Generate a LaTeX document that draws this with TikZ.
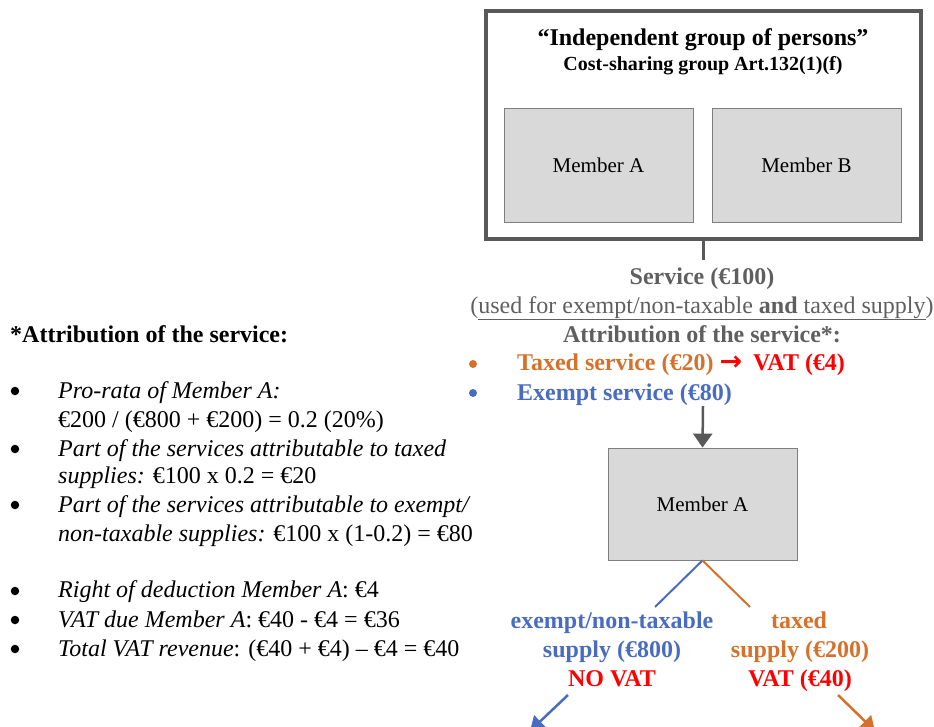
\documentclass[tikz,border=0pt]{standalone}
\usepackage{fontspec}
\setmainfont{Liberation Serif}
\newfontfamily\symfont{DejaVu Sans}
\usetikzlibrary{arrows.meta,calc}

\definecolor{framegray}{HTML}{595959}
\definecolor{boxfill}{HTML}{D9D9D9}
\definecolor{boxline}{HTML}{7F7F7F}
\definecolor{txtgray}{HTML}{5F5F5F}
\definecolor{taxorange}{HTML}{D5712A}
\definecolor{exblue}{HTML}{4A6CC0}
\definecolor{vatred}{HTML}{FF0000}

\tikzset{
  member/.style={draw=boxline, fill=boxfill, line width=0.8pt,
    minimum width=189pt, minimum height=114pt, inner sep=0pt,
    font=\fontsize{21}{24}\selectfont},
  txt/.style={anchor=base, inner sep=0pt, font=\fontsize{24}{28}\selectfont},
  boldtxt/.style={txt, font=\bfseries\fontsize{24}{28}\selectfont},
  lefttxt/.style={anchor=base west, inner sep=0pt, font=\fontsize{24}{28}\selectfont},
  dot/.style={circle, inner sep=0pt, minimum size=#1},
  flowline/.style={draw=framegray, line width=2.5pt},
  flowarrow/.style={flowline, -{Triangle[width=19pt,length=14pt]}},
  branch/.style={line width=2pt},
  brancharrow/.style={line width=2.5pt, -{Triangle[width=17pt,length=14pt]}},
}

\begin{document}
\begin{tikzpicture}[x=1pt,y=-1pt]
\useasboundingbox (0,0) rectangle (934,726);
\clip (0,0) rectangle (934,726);

% group frame with its two members
\node[draw=framegray, line width=3.5pt, minimum width=435pt, minimum height=228pt,
      inner sep=0pt] (group) at (703.5,125) {};
\node[boldtxt] (title) at (703,45) {“Independent group of persons”};
\node[txt, font=\bfseries\fontsize{20}{24}\selectfont] (subtitle) at (703,70)
  {Cost-sharing group Art.132(1)(f)};
\node[member] (memA) at (598.5,165) {Member A};
\node[member] (memB) at (806.5,165) {Member B};

% the shared service and its attribution
\node[boldtxt, text=txtgray] (service) at (702,284) {Service (€100)};
\node[txt, text=txtgray] (usage) at (702,313)
  {(\underline{used for exempt/non-taxable \textbf{and} taxed supply})};
\node[boldtxt, text=txtgray] (attrib) at (702,342) {Attribution of the service*:};
\node[dot=8pt, fill=taxorange] (dotA) at (473,364) {};
\node[lefttxt, font=\bfseries\fontsize{24}{28}\selectfont] (taxed) at (517,370)
  {\textcolor{taxorange}{Taxed service (€20)}\hspace{6pt}\textcolor{vatred}{{\symfont\bfseries\fontsize{27}{28}\selectfont →}\hspace{11pt}VAT (€4)}};
\node[dot=8pt, fill=exblue] (dotB) at (473,393) {};
\node[lefttxt, font=\bfseries\fontsize{24}{28}\selectfont, text=exblue] (exempt) at (517,400)
  {Exempt service (€80)};

\draw[flowline, shorten >=7pt] (group.south) -- (group.south |- service.north);
\coordinate (attribEnd) at (703,406);

% receiving member
\node[member, minimum height=112pt] (memA2) at (702.5,504) {Member A};
\draw[flowarrow] (attribEnd) -- (memA2.north);

% split into the two kinds of supply
\coordinate (leftEnd) at (655,607);
\coordinate (rightEnd) at (750,607);
\draw[branch, exblue] (memA2.south) -- (leftEnd);
\draw[branch, taxorange] (memA2.south) -- (rightEnd);

\node[boldtxt, text=exblue] (exL1) at (612,628) {exempt/non-taxable};
\node[boldtxt, text=exblue] (exL2) at (612,657) {supply (€800)};
\node[boldtxt, text=vatred] (novat) at (612,686) {NO VAT};

\node[boldtxt, text=taxorange] (txL1) at (799,628) {taxed};
\node[boldtxt, text=taxorange] (txL2) at (800,657) {supply (€200)};
\node[boldtxt, text=vatred] (vat) at (800,686) {VAT (€40)};

\coordinate (leftStart) at (568,695);
\coordinate (rightStart) at (838,695);
\coordinate (leftOut) at (530,731);
\coordinate (rightOut) at (875,731);
\draw[brancharrow, exblue] (leftStart) -- (leftOut);
\draw[brancharrow, taxorange] (rightStart) -- (rightOut);

% explanatory notes
\node[lefttxt, font=\bfseries\fontsize{24}{28}\selectfont] (notehead) at (10,342)
  {*Attribution of the service:};
\foreach \y in {391,449,505,591,620,649}
  \node[dot=8.5pt, fill=black] at (15,\y) {};
\node[lefttxt] (n1a) at (58,398) {\textit{Pro-rata of Member A:}};
\node[lefttxt] (n1b) at (58,427) {€200 / (€800 + €200) = 0.2 (20\%)};
\node[lefttxt] (n2a) at (58,456) {\textit{Part of the services attributable to taxed}};
\node[lefttxt] (n2b) at (58,483) {\textit{supplies:} €100 x 0.2 = €20};
\node[lefttxt] (n3a) at (58,512) {\textit{Part of the services attributable to exempt/}};
\node[lefttxt] (n3b) at (58,541) {\textit{non-taxable supplies:} €100 x (1-0.2) = €80};
\node[lefttxt] (n4) at (58,597) {\textit{Right of deduction Member A}: €4};
\node[lefttxt] (n5) at (58,627) {\textit{VAT due Member A}: €40 - €4 = €36};
\node[lefttxt] (n6) at (58,656) {\textit{Total VAT revenue}: (€40 + €4) – €4 = €40};
\end{tikzpicture}
\end{document}
